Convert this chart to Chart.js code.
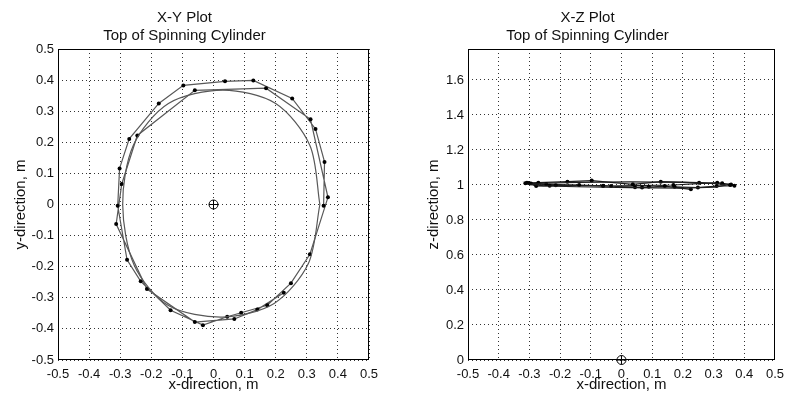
<!DOCTYPE html>
<html><head><meta charset="utf-8">
<script src="https://cdn.jsdelivr.net/npm/chart.js@4"></script>
<style>
html,body{margin:0;padding:0;background:#fff;width:791px;height:402px;overflow:hidden}
#c1{position:absolute;left:0;top:0}
#c2{position:absolute;left:395px;top:0}
</style></head><body>
<canvas id="c1" width="395" height="402"></canvas>
<canvas id="c2" width="396" height="402"></canvas>
<script>
// ---- data: sampled path of the top of the spinning cylinder ----
const pathX = [0.354,0.357,0.328,0.253,0.128,0.037,-0.097,-0.176,-0.271,-0.302,-0.308,-0.278,-0.234,-0.138,-0.034,0.044,0.089,0.173,0.249,
               0.310,0.368,0.312,0.169,-0.060,-0.245,-0.295,-0.313,-0.214,-0.060,0.067,0.141,0.226];
const pathY = [-0.004,0.137,0.243,0.341,0.399,0.396,0.383,0.325,0.211,0.116,-0.004,-0.178,-0.247,-0.340,-0.388,-0.361,-0.348,-0.324,-0.253,
               -0.160,0.023,0.274,0.374,0.367,0.222,0.066,-0.063,-0.272,-0.378,-0.368,-0.338,-0.284];
const pathZ = [1.000,1.003,1.010,1.013,1.019,1.004,1.025,1.019,1.013,1.012,1.013,0.994,0.996,1.000,0.994,0.987,0.990,0.990,0.985,
               0.994,0.996,1.013,1.000,0.994,1.005,1.008,1.010,0.998,0.996,0.985,0.994,0.975];
// smoother unmarked loop
const loopX = [0.342,0.310,0.200,0.030,-0.145,-0.258,-0.292,-0.255,-0.145,0.030,0.195,0.305,0.342];
const loopY = [0.000,0.190,0.325,0.368,0.325,0.190,0.000,-0.195,-0.325,-0.362,-0.318,-0.190,0.000];
const loopZ = [1.000,1.008,1.015,1.018,1.015,1.010,1.005,0.995,0.990,0.985,0.982,0.988,1.000];
// centre marker
const centreX = [0];
const centreY = [0];
const centreZ = [0];
// ticks
const xyTicks = [-0.5,-0.4,-0.3,-0.2,-0.1,0,0.1,0.2,0.3,0.4,0.5];
const zTicks = [0,0.2,0.4,0.6,0.8,1.0,1.2,1.4,1.6];
const zMax = 1.777;

const FONT = "'Liberation Sans', Arial, Helvetica, sans-serif";
const pts = (xs, ys) => xs.map((x, i) => ({x, y: ys[i]}));
const fmt = v => String(Number(v.toFixed(2)));

const frame = {
  id: 'frame',
  afterDraw(chart) {
    const a = chart.chartArea, ctx = chart.ctx;
    ctx.save();
    ctx.strokeStyle = '#000'; ctx.lineWidth = 1;
    ctx.strokeRect(Math.round(a.left) + 0.5, Math.round(a.top) + 0.5,
                   Math.round(a.right - a.left) - 1, Math.round(a.bottom - a.top) - 1);
    ctx.restore();
  }
};

function axis(min, max, ticks, title, isY, yWidth, titlePad) {
  return {
    type: 'linear', min, max,
    afterBuildTicks: s => { s.ticks = ticks.map(v => ({value: v})); },
    afterFit: s => { if (isY) s.width = yWidth; else s.height = 42; },
    grid: { color: '#333', lineWidth: 1, drawTicks: false },
    border: { display: false, dash: [1, 3] },
    ticks: { color: '#111', font: {family: FONT, size: 13}, padding: isY ? 4 : 7,
             callback: v => fmt(v), maxRotation: 0, autoSkip: false },
    title: { display: true, text: title, color: '#111', font: {family: FONT, size: 15},
             padding: isY ? {top: titlePad, bottom: 0} : {top: 0, bottom: 8} }
  };
}

function centreSets(xs, ys) {
  return [
    { data: pts(xs, ys), showLine: false, pointStyle: 'circle', pointRadius: 4.5,
      borderColor: '#000', backgroundColor: 'rgba(0,0,0,0)', borderWidth: 1, clip: false },
    { data: pts(xs, ys), showLine: false, pointStyle: 'cross', pointRadius: 4.5,
      borderColor: '#000', borderWidth: 1, clip: false }
  ];
}

function makeChart(id, yVals, loopVals, cY, yMin, yMax, yTicks, yTitle, title, yWidth, titlePad, padRight, lineColor, tension) {
  return new Chart(document.getElementById(id), {
    type: 'scatter',
    data: { datasets: [
      { data: pts(loopX, loopVals), showLine: true, tension, pointRadius: 0,
        borderColor: lineColor, borderWidth: 1.2 },
      { data: pts(pathX, yVals), showLine: true, pointRadius: 2, pointStyle: 'circle',
        pointBackgroundColor: '#000', pointBorderColor: '#000', pointBorderWidth: 0,
        borderColor: lineColor, borderWidth: 1.2 },
      ...centreSets(centreX, cY)
    ]},
    options: {
      responsive: false, animation: false, devicePixelRatio: 1,
      layout: { padding: {left: 0, right: padRight, top: 0, bottom: 0} },
      plugins: {
        legend: {display: false}, tooltip: {enabled: false},
        title: { display: true, text: title, color: '#111',
                 font: {family: FONT, size: 15, weight: 'normal', lineHeight: 1.2},
                 padding: {top: 9, bottom: 4} }
      },
      scales: {
        x: axis(-0.5, 0.5, xyTicks, 'x-direction, m', false),
        y: axis(yMin, yMax, yTicks, yTitle, true, yWidth, titlePad)
      }
    },
    plugins: [frame]
  });
}

makeChart('c1', pathY, loopY, centreY, -0.5, 0.5, xyTicks, 'y-direction, m',
          ['X-Y Plot', 'Top of Spinning Cylinder'], 58, 12, 26, '#585858', 0.3);
makeChart('c2', pathZ, loopZ, centreZ, 0, zMax, zTicks, 'z-direction, m',
          ['X-Z Plot', 'Top of Spinning Cylinder'], 73, 30, 11, '#1e1e1e', 0);
</script>
</body></html>
